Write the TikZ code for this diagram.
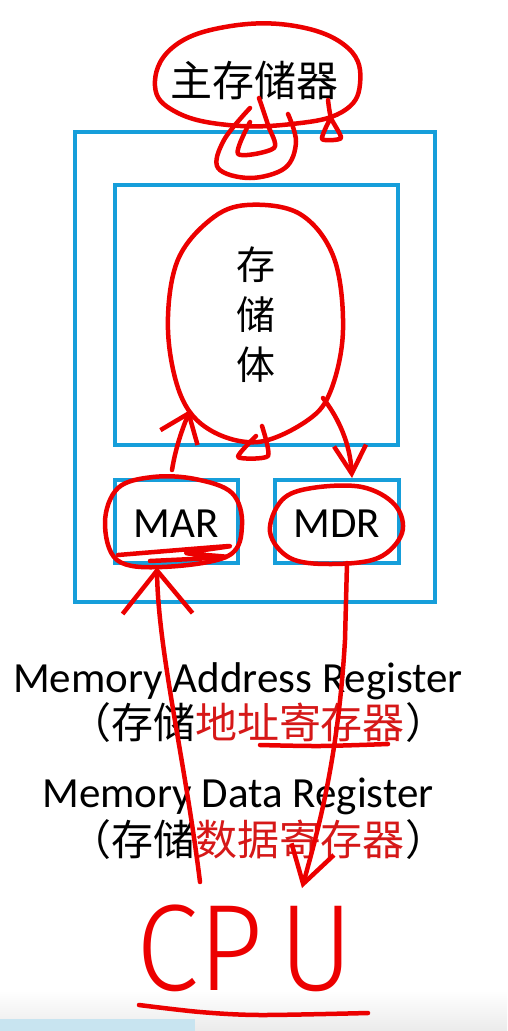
\documentclass[tikz,border=0pt]{standalone}
\usepackage{fontspec}
\setmainfont{Carlito}
\newfontfamily\cjk{Noto Sans CJK SC}
\newfontfamily\hand{Fira Sans}[UprightFont = * Light]
\usetikzlibrary{arrows.meta,shapes.geometric,calc}

\definecolor{boxblue}{RGB}{22,158,218}
\definecolor{ink}{RGB}{236,0,0}
\definecolor{redtext}{RGB}{214,24,24}
\definecolor{barblue}{RGB}{200,228,240}

\begin{document}
\begin{tikzpicture}[x=1pt,y=-1pt,
  box/.style={draw=boxblue,line width=4.5pt,inner sep=0pt,outer sep=0pt},
  pen/.style={draw=ink,line width=4.5pt,line cap=round,line join=round},
  cn/.style={font=\cjk\fontsize{#1}{#1}\selectfont,inner sep=0pt},
  en/.style={font=\fontsize{#1}{#1}\selectfont,inner sep=0pt,anchor=base},
  barbtip/.style n args={2}{-{Straight Barb[length=#1pt,width=#2pt]}}
]
\useasboundingbox (0,0) rectangle (507,1031);
\fill[white] (0,0) rectangle (507,1031);
\shade[top color=white,bottom color=black!8] (0,990) rectangle (507,1031);
\fill[barblue] (0,1019) rectangle (195,1031);

% memory blocks
\node[box,minimum width=360pt,minimum height=470pt] (memory) at (255,367) {};
\node[box,minimum width=283pt,minimum height=260pt] (bank) at (256.5,315) {};
\node[box,minimum width=123pt,minimum height=83pt] (marbox) at (176.5,521.5) {};
\node[box,minimum width=124pt,minimum height=83pt] (mdrbox) at (337,521.5) {};

% labels
\node[cn=42] (mainmem) at (254,80) {主存储器};
\node[cn=39,align=center,font=\cjk\fontsize{39}{50}\selectfont] (banktext) at (256,315) {存\\储\\体};
\node[en=43] (mar) at (176,537) {MAR};
\node[en=43] (mdr) at (337,537) {MDR};
\node[en=43] (addren) at (238,692) {Memory Address Register};
\node[cn=42] (addrcn) at (258,723) {（存储\textcolor{redtext}{地址寄存器}）};
\node[en=43] (dataen) at (238,807) {Memory Data Register};
\node[cn=42] (datacn) at (258,840) {（存储\textcolor{redtext}{数据寄存器}）};
\node[en=123,text=ink,font=\hand\fontsize{123}{123}\selectfont] (cpu) at (245,990)
  {\scalebox{0.92}[1]{C\kern0pt P\kern18pt U}};

% pen marks around the main memory label
\draw[pen] plot[smooth cycle,tension=0.7] coordinates
  {(155,86) (172,48) (225,27) (295,26) (348,48) (360,84) (342,112) (292,124) (228,125) (176,112)};
\draw[pen] plot[smooth,tension=0.5] coordinates {(259,98) (268,125) (274,148) (238,154) (250,122)};
\draw[pen] plot[smooth,tension=0.6] coordinates {(250,108) (224,140) (218,168) (250,178) (285,168) (296,142) (288,114)};
\draw[pen] plot[smooth,tension=0.4] coordinates {(328,100) (331,118) (341,138) (322,139) (330,119)};

% pen marks around the storage bank
\draw[pen] plot[smooth cycle,tension=0.6] coordinates
  {(247,205) (300,214) (334,258) (343,330) (331,390) (308,420) (258,442) (210,430) (181,396) (168,330) (177,262) (210,220)};
\draw[pen] plot[smooth,tension=0.4] coordinates {(262,426) (268,456) (238,457) (256,436)};

% pen marks around the registers
\draw[pen] plot[smooth cycle,tension=0.6] coordinates
  {(105,522) (118,488) (153,477) (195,479) (232,493) (242,525) (228,556) (162,567) (117,560)};
\draw[pen] plot[smooth,tension=0.3] coordinates {(118,555) (230,546) (186,553) (226,557) (150,561)};
\draw[pen] plot[smooth cycle,tension=0.6] coordinates
  {(270,532) (282,500) (312,488) (362,487) (395,505) (402,533) (378,558) (330,564) (290,558)};

% underlines
\draw[pen] plot[smooth,tension=0.5] coordinates {(260,745) (320,746) (388,744)};
\draw[pen] plot[smooth,tension=0.5] coordinates {(139,1005) (200,1012) (260,1015) (368,1013)};

% transfer arrows
\coordinate (marout) at (172,470);
\coordinate (bankin) at (190,410);
\coordinate (bankout) at (323,398);
\coordinate (mdrin) at (352,478);
\coordinate (cpuaddr) at (200,882);
\coordinate (marin) at (157,567);
\coordinate (mdrout) at (347,563);
\coordinate (cpuin) at (302,888);
\draw[pen,barbtip={26}{40}] (marout) .. controls (176,445) and (184,425) .. (bankin);
\draw[pen,barbtip={28}{32}] (bankout) .. controls (340,420) and (350,445) .. (mdrin);
\draw[pen,barbtip={43}{70}] (cpuaddr) .. controls (185,760) and (158,650) .. (marin);
\draw[pen,barbtip={36}{44}] (mdrout) -- (345,640) .. controls (338,760) and (318,830) .. (cpuin);
\end{tikzpicture}
\end{document}
